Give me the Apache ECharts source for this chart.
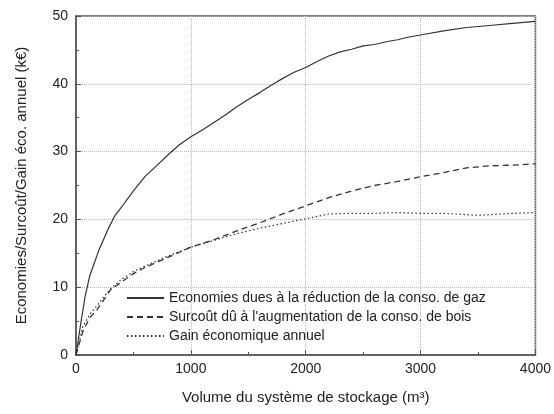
<!DOCTYPE html>
<html>
<head>
<meta charset="utf-8">
<script src="https://cdn.jsdelivr.net/npm/echarts@6/dist/echarts.min.js"></script>
<style>
  html, body { margin: 0; padding: 0; background: #fff; }
  #main { width: 554px; height: 414px; }
</style>
</head>
<body>
<div id="main"></div>
<script>
// volume du stockage (m3)
var volGaz = [0, 40, 80, 120, 200, 280, 340, 400, 500, 600, 700, 800, 900, 1000, 1100, 1200, 1300, 1400, 1500, 1600, 1700, 1800, 1900, 2000, 2100, 2200, 2300, 2400, 2500, 2600, 2700, 2800, 2900, 3000, 3200, 3400, 3600, 3800, 4000];
var economiesGaz = [0, 4.5, 8.7, 11.7, 15.5, 18.6, 20.6, 21.9, 24.2, 26.3, 27.9, 29.5, 31.0, 32.2, 33.2, 34.3, 35.4, 36.6, 37.7, 38.7, 39.8, 40.8, 41.7, 42.4, 43.3, 44.1, 44.7, 45.1, 45.6, 45.8, 46.2, 46.5, 46.9, 47.2, 47.8, 48.3, 48.6, 48.9, 49.2];

var volBois = [0, 60, 120, 180, 300, 400, 500, 600, 800, 1000, 1200, 1400, 1600, 1800, 2000, 2200, 2400, 2600, 2800, 3000, 3200, 3400, 3600, 3800, 4000];
var surcoutBois = [0, 3.5, 5.5, 6.6, 9.6, 10.8, 12.0, 12.9, 14.4, 15.9, 17.0, 18.3, 19.5, 20.8, 22.0, 23.2, 24.2, 25.0, 25.6, 26.3, 26.9, 27.6, 27.9, 28.0, 28.2];

var volGain = [0, 60, 120, 180, 300, 400, 500, 600, 800, 1000, 1200, 1400, 1600, 1800, 2000, 2200, 2400, 2600, 2800, 3000, 3200, 3400, 3500, 3600, 3800, 4000];
var gainAnnuel = [0, 4.2, 6.0, 7.2, 9.8, 11.2, 12.3, 13.1, 14.6, 15.9, 16.9, 17.9, 18.7, 19.4, 20.1, 20.8, 20.9, 20.9, 21.0, 20.9, 20.9, 20.7, 20.6, 20.7, 20.9, 21.0];

var nomsSeries = [
  'Economies dues à la réduction de la conso. de gaz',
  'Surcoût dû à l\'augmentation de la conso. de bois',
  'Gain économique annuel'
];

function paires(xs, ys) {
  var out = [];
  for (var i = 0; i < xs.length; i++) out.push([xs[i], ys[i]]);
  return out;
}

var police = '"Liberation Sans", Arial, sans-serif';
var myChart = echarts.init(document.getElementById('main'));

var option = {
  animation: false,
  textStyle: { fontFamily: police },
  grid: {
    left: 76, top: 16, width: 463, height: 339,
    show: true, borderColor: '#555', borderWidth: 1.5
  },
  legend: {
    orient: 'vertical',
    left: 121, top: 286,
    itemWidth: 37, itemHeight: 10, itemGap: 5,
    // pas de rond dans la légende, juste le trait
    itemStyle: { opacity: 0 },
    textStyle: { fontFamily: police, fontSize: 14, color: '#222' },
    data: nomsSeries
  },
  xAxis: {
    type: 'value', min: 0, max: 4000, interval: 1000,
    name: 'Volume du système de stockage (m³)',
    nameLocation: 'middle', nameGap: 35,
    nameTextStyle: { fontSize: 15, color: '#222' },
    axisLine: { lineStyle: { color: '#555', width: 1.5 } },
    axisTick: { inside: true, length: 5, lineStyle: { color: '#555' } },
    minorTick: { show: true, splitNumber: 2, length: 3, lineStyle: { color: '#555' } },
    axisLabel: { fontSize: 14, color: '#222', margin: 7, formatter: function (v) { return String(v); } },
    splitLine: { lineStyle: { color: '#bbb', type: [1, 1] } }
  },
  yAxis: {
    type: 'value', min: 0, max: 50, interval: 10,
    name: 'Economies/Surcoût/Gain éco. annuel (k€)',
    nameLocation: 'middle', nameGap: 47,
    nameTextStyle: { fontSize: 15, color: '#222' },
    axisLine: { show: true, lineStyle: { color: '#555', width: 1.5 } },
    axisTick: { show: true, inside: true, length: 5, lineStyle: { color: '#555' } },
    minorTick: { show: true, splitNumber: 2, length: 3, lineStyle: { color: '#555' } },
    axisLabel: { fontSize: 14, color: '#222', margin: 8 },
    splitLine: { lineStyle: { color: '#bbb', type: [1, 1] } }
  },
  series: [
    {
      name: nomsSeries[0], type: 'line', symbol: 'none',
      lineStyle: { color: '#333', width: 1.2, type: 'solid' },
      itemStyle: { color: '#333' },
      data: paires(volGaz, economiesGaz)
    },
    {
      name: nomsSeries[1], type: 'line', symbol: 'none',
      lineStyle: { color: '#333', width: 1.3, type: [6, 4] },
      itemStyle: { color: '#333' },
      data: paires(volBois, surcoutBois)
    },
    {
      name: nomsSeries[2], type: 'line', symbol: 'none',
      lineStyle: { color: '#333', width: 1.2, type: [1.5, 2.5] },
      itemStyle: { color: '#333' },
      data: paires(volGain, gainAnnuel)
    }
  ]
};

myChart.setOption(option);
</script>
</body>
</html>
